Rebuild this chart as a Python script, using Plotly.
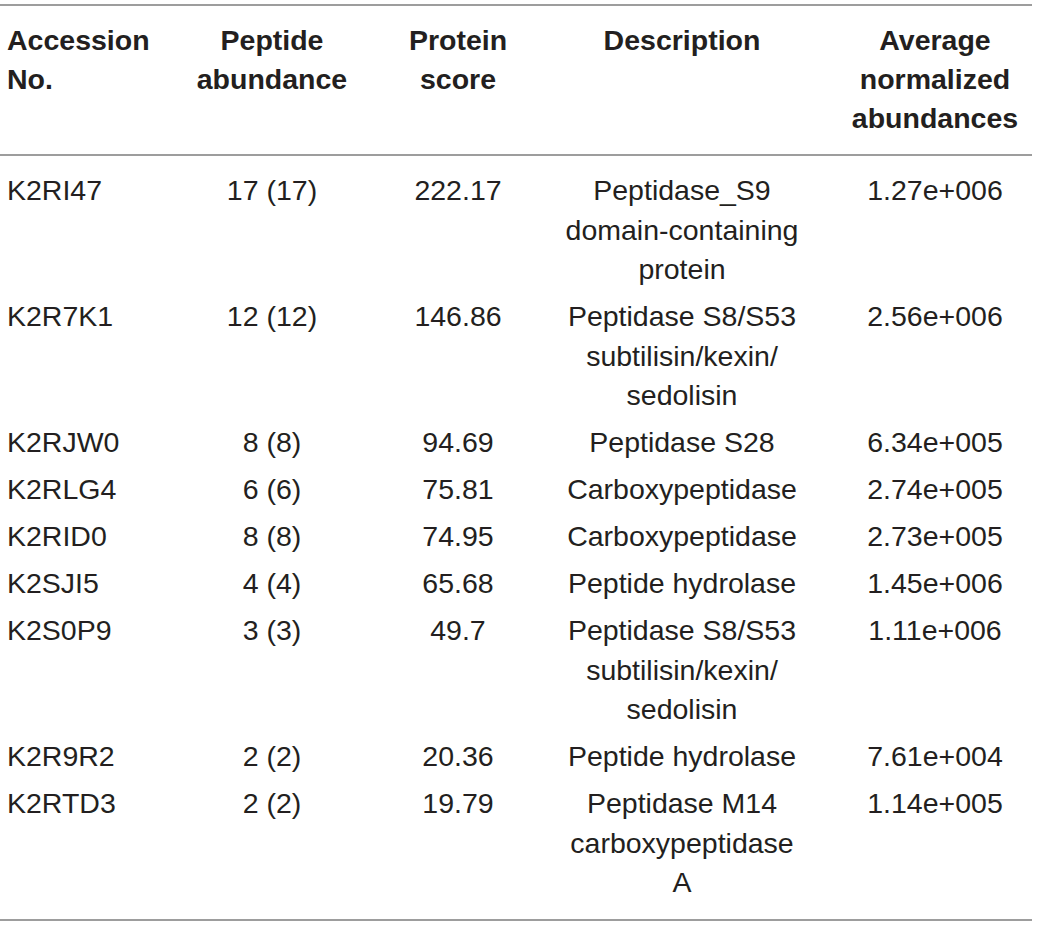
import plotly.graph_objects as go

# table contents
headers = ["Accession\nNo.", "Peptide\nabundance", "Protein\nscore",
           "Description", "Average\nnormalized\nabundances"]
accessions = ["K2RI47", "K2R7K1", "K2RJW0", "K2RLG4", "K2RID0",
              "K2SJI5", "K2S0P9", "K2R9R2", "K2RTD3"]
peptides = [17, 12, 8, 6, 8, 4, 3, 2, 2]
unique_peptides = [17, 12, 8, 6, 8, 4, 3, 2, 2]
scores = [222.17, 146.86, 94.69, 75.81, 74.95, 65.68, 49.7, 20.36, 19.79]
descriptions = [
    "Peptidase_S9\ndomain-containing\nprotein",
    "Peptidase S8/S53\nsubtilisin/kexin/\nsedolisin",
    "Peptidase S28",
    "Carboxypeptidase",
    "Carboxypeptidase",
    "Peptide hydrolase",
    "Peptidase S8/S53\nsubtilisin/kexin/\nsedolisin",
    "Peptide hydrolase",
    "Peptidase M14\ncarboxypeptidase\nA",
]
abundances = [1.27e6, 2.56e6, 6.34e5, 2.74e5, 2.73e5, 1.45e6, 1.11e6, 7.61e4, 1.14e5]


def fmt_abund(v):
    m, e = f"{v:.2e}".split("e")
    sign = e[0]
    return f"{m}e{sign}{int(e[1:]):03d}"


columns = [
    accessions,
    [f"{a} ({b})" for a, b in zip(peptides, unique_peptides)],
    [str(s) for s in scores],
    descriptions,
    [fmt_abund(v) for v in abundances],
]

# layout of the table (page pixels)
W, H = 1040, 927
col_x = [7, 272, 458, 682, 935]
col_pos = ["middle right", "middle center", "middle center", "middle center", "middle center"]
FONT = "Liberation Sans, Arial, Helvetica, sans-serif"
TEXT = "#231f20"
RULE = "#9d9d9d"
SIZE = 28.5
header_first = 43
header_step = 39
body_first = 193
body_step = 39.5
row_gap = 47

fig = go.Figure()

# header
for i, h in enumerate(headers):
    lines = h.split("\n")
    fig.add_trace(go.Scatter(
        x=[col_x[i]] * len(lines),
        y=[header_first + k * header_step for k in range(len(lines))],
        text=[f"<b>{t}</b>" for t in lines],
        mode="text", textposition=col_pos[i],
        textfont=dict(family=FONT, size=SIZE, color=TEXT),
        hoverinfo="skip", showlegend=False, cliponaxis=False))

# body rows
row_y = []
y = body_first
for d in descriptions:
    row_y.append(y)
    y += row_gap + (len(d.split("\n")) - 1) * body_step

for i, col in enumerate(columns):
    xs, ys, ts = [], [], []
    for r, cell in enumerate(col):
        for k, t in enumerate(cell.split("\n")):
            xs.append(col_x[i])
            ys.append(row_y[r] + k * body_step)
            ts.append(t)
    fig.add_trace(go.Scatter(
        x=xs, y=ys, text=ts, mode="text", textposition=col_pos[i],
        textfont=dict(family=FONT, size=SIZE, color=TEXT),
        hoverinfo="skip", showlegend=False, cliponaxis=False))

# horizontal rules
for yy in [5, 155, 920]:
    fig.add_shape(type="line", x0=0, x1=1032, y0=yy, y1=yy,
                  xref="x", yref="y", line=dict(color=RULE, width=2))

fig.update_layout(
    width=W, height=H,
    margin=dict(l=0, r=0, t=0, b=0),
    paper_bgcolor="white", plot_bgcolor="white",
    xaxis=dict(range=[0, W], visible=False, fixedrange=True),
    yaxis=dict(range=[H, 0], visible=False, fixedrange=True),
)

# drop the default page margin so the figure sits at the window origin
fig.write_html("out.html",
               config={"displayModeBar": False, "staticPlot": True},
               post_script="document.body.style.margin='0';"
                           "document.body.style.overflow='hidden';")
